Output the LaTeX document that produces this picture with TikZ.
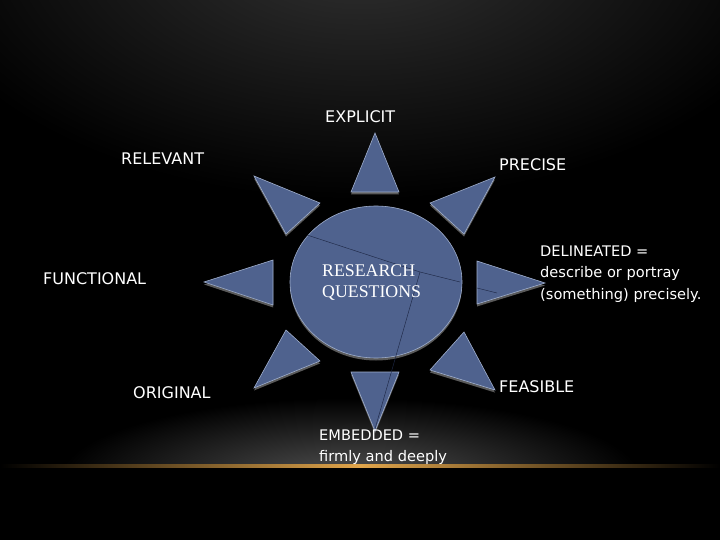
\documentclass[tikz,border=0pt]{standalone}
\usepackage{fontspec}
\setmainfont{DejaVu Sans}
\newfontfamily\rqfont{Liberation Serif}
\usetikzlibrary{shapes.geometric,shadows}
\definecolor{tribl}{RGB}{79,98,142}
\definecolor{triedge}{RGB}{160,175,205}
\definecolor{seamcol}{RGB}{30,40,70}
\definecolor{glow}{RGB}{225,165,75}

\begin{document}
\begin{tikzpicture}[x=1pt,y=-1pt,
        main/.style = {fill=tribl, draw=triedge, line width=0.6pt,
            drop shadow={shadow xshift=0pt, shadow yshift=-2.5pt, fill=black!65, opacity=1}},
        seam/.style = {draw=seamcol, line width=0.45pt},
        lbl/.style = {text=white, inner sep=0pt, anchor=west, align=left,
            font=\fontsize{16}{21.5}\selectfont},
        small/.style = {font=\fontsize{14.6}{21.5}\selectfont}]
        % background
        \fill[black] (0,0) rectangle (720,540);
        \useasboundingbox (0,0) rectangle (720,540);
        \shade[inner color=black!80, outer color=black] (360,-60) ellipse (460 and 260);
        \begin{scope}
            \clip (0,0) rectangle (720,466);
            \shade[inner color=black!68, outer color=black] (350,478) ellipse (290 and 80);
        \end{scope}
        \shade[left color=black, right color=black, middle color=glow] (0,464.5) rectangle (720,467.5);

        % rays
        \draw[main] (375,133) -- (351,192) -- (399,192) -- cycle;
        \draw[main] (254,176) -- (320,203) -- (286,234) -- cycle;
        \draw[main] (204,282) -- (273,260) -- (273,305) -- cycle;
        \draw[main] (286,330) -- (320,361) -- (254,388) -- cycle;
        \draw[main] (351,372) -- (399,372) -- (375,431) -- cycle;
        \draw[main] (495,177) -- (430,203) -- (464,234) -- cycle;
        \draw[main] (477,261) -- (545,283) -- (477,304) -- cycle;
        \draw[main] (464,332) -- (495,390) -- (430,370) -- cycle;

        % centre
        \node[main, ellipse, minimum width=172pt, minimum height=152pt, inner sep=0pt] (rq) at (376,282) {};

        \coordinate (s1) at (307,235);
        \coordinate (s2) at (420,272);
        \coordinate (s3) at (460,282);
        \coordinate (s4) at (375,429);
        \coordinate (s5) at (477,288);
        \coordinate (s6) at (497,293);
        \draw[seam] (s1) -- (s2) -- (s3);
        \draw[seam] (s2) -- (s4);
        \draw[seam] (s5) -- (s6);

        \node[text=white, align=left, anchor=west, inner sep=0pt,
            font=\rqfont\fontsize{17.8}{21}\selectfont] (rqtext) at (322,283) {RESEARCH\\QUESTIONS};

        % labels
        \node[lbl] (explicit) at (325,117) {EXPLICIT};
        \node[lbl] (relevant) at (121,159) {RELEVANT};
        \node[lbl] (precise) at (499,165) {PRECISE};
        \node[lbl] (functional) at (43,279) {FUNCTIONAL};
        \node[lbl, small] (delineated) at (540,274) {DELINEATED =\\describe or portray\\(something) precisely.};
        \node[lbl] (original) at (133,393) {ORIGINAL};
        \node[lbl] (feasible) at (499,387) {FEASIBLE};
        \node[lbl, small] (embedded) at (319,447) {EMBEDDED =\\firmly and deeply};
\end{tikzpicture}
\end{document}
